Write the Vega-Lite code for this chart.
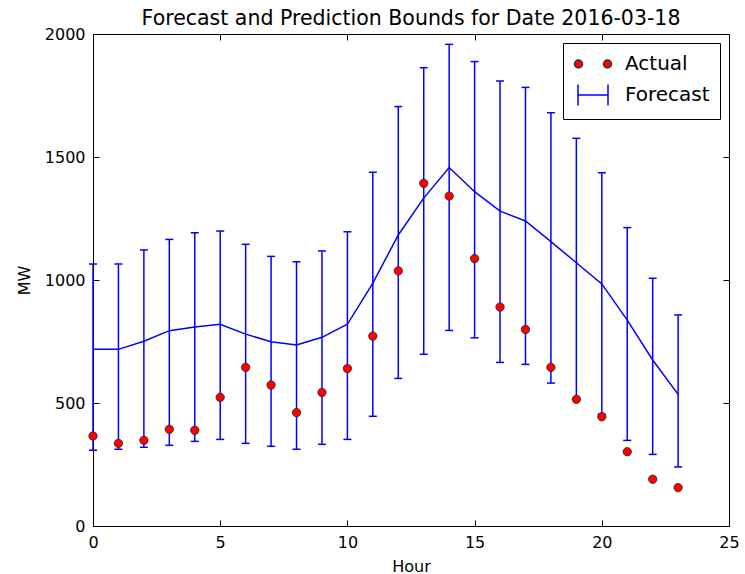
{
  "$schema": "https://vega.github.io/schema/vega-lite/v6.json",
  "width": 636,
  "height": 492,
  "autosize": {"type": "none"},
  "padding": {"left": 93, "top": 34, "right": 16, "bottom": 48},
  "background": "white",
  "title": {"text": "Forecast and Prediction Bounds for Date 2016-03-18", "fontSize": 20.5, "font": "DejaVu Sans", "fontWeight": "normal", "color": "black", "offset": -3},
  "config": {
    "view": {"stroke": "black", "strokeWidth": 1},
    "font": "DejaVu Sans",
    "axis": {"grid": false, "domain": false, "tickColor": "black", "tickWidth": 1, "tickSize": -6, "labelPadding": 14, "labelFlush": false, "labelFontSize": 16, "labelColor": "black", "labelFont": "DejaVu Sans", "titleFont": "DejaVu Sans", "titleFontSize": 16, "titleFontWeight": "normal", "titleColor": "black"},
    "legend": {"strokeColor": "black", "fillColor": "white", "padding": 10, "labelFontSize": 20, "labelFont": "DejaVu Sans", "labelColor": "black", "symbolSize": 400, "symbolOffset": 9, "labelOffset": 21, "rowPadding": 7, "offset": 9, "cornerRadius": 0, "symbolOpacity": 1, "symbolStrokeWidth": 1.5}
  },
  "data": {"values": [
    {"hour": 0, "actual": 366, "forecast": 718, "lower": 308, "upper": 1065, "series": "Actual"},
    {"hour": 1, "actual": 336, "forecast": 718, "lower": 312, "upper": 1065, "series": "Actual"},
    {"hour": 2, "actual": 348, "forecast": 751, "lower": 320, "upper": 1122, "series": "Actual"},
    {"hour": 3, "actual": 393, "forecast": 794, "lower": 328, "upper": 1165, "series": "Actual"},
    {"hour": 4, "actual": 389, "forecast": 809, "lower": 344, "upper": 1192, "series": "Actual"},
    {"hour": 5, "actual": 523, "forecast": 820, "lower": 352, "upper": 1199, "series": "Actual"},
    {"hour": 6, "actual": 645, "forecast": 780, "lower": 336, "upper": 1145, "series": "Actual"},
    {"hour": 7, "actual": 573, "forecast": 749, "lower": 324, "upper": 1096, "series": "Actual"},
    {"hour": 8, "actual": 461, "forecast": 736, "lower": 312, "upper": 1074, "series": "Actual"},
    {"hour": 9, "actual": 543, "forecast": 767, "lower": 332, "upper": 1118, "series": "Actual"},
    {"hour": 10, "actual": 640, "forecast": 820, "lower": 352, "upper": 1196, "series": "Actual"},
    {"hour": 11, "actual": 772, "forecast": 987, "lower": 446, "upper": 1438, "series": "Actual"},
    {"hour": 12, "actual": 1037, "forecast": 1183, "lower": 600, "upper": 1705, "series": "Actual"},
    {"hour": 13, "actual": 1393, "forecast": 1333, "lower": 698, "upper": 1863, "series": "Actual"},
    {"hour": 14, "actual": 1341, "forecast": 1457, "lower": 795, "upper": 1958, "series": "Actual"},
    {"hour": 15, "actual": 1087, "forecast": 1359, "lower": 765, "upper": 1888, "series": "Actual"},
    {"hour": 16, "actual": 890, "forecast": 1280, "lower": 665, "upper": 1809, "series": "Actual"},
    {"hour": 17, "actual": 799, "forecast": 1240, "lower": 657, "upper": 1783, "series": "Actual"},
    {"hour": 18, "actual": 645, "forecast": 1156, "lower": 581, "upper": 1680, "series": "Actual"},
    {"hour": 19, "actual": 515, "forecast": 1070, "lower": 515, "upper": 1576, "series": "Actual"},
    {"hour": 20, "actual": 444, "forecast": 984, "lower": 455, "upper": 1436, "series": "Actual"},
    {"hour": 21, "actual": 302, "forecast": 837, "lower": 348, "upper": 1213, "series": "Actual"},
    {"hour": 22, "actual": 190, "forecast": 675, "lower": 291, "upper": 1007, "series": "Actual"},
    {"hour": 23, "actual": 156, "forecast": 535, "lower": 240, "upper": 858, "series": "Actual"}
  ]},
  "resolve": {"axis": {"x": "independent", "y": "independent"}},
  "layer": [
    {
      "mark": {"type": "rule", "color": "blue", "strokeWidth": 1.5},
      "encoding": {
        "x": {"field": "hour", "type": "quantitative", "scale": {"domain": [0, 25], "nice": false}, "axis": {"orient": "bottom", "title": "Hour", "values": [0, 5, 10, 15, 20, 25], "titlePadding": 8}},
        "y": {"field": "lower", "type": "quantitative", "scale": {"domain": [0, 2000], "nice": false}, "axis": {"orient": "left", "title": "MW", "format": "d", "values": [0, 500, 1000, 1500, 2000], "titlePadding": 12}},
        "y2": {"field": "upper"}
      }
    },
    {
      "mark": {"type": "tick", "orient": "horizontal", "color": "blue", "size": 8, "thickness": 1.5, "opacity": 1},
      "encoding": {
        "x": {"field": "hour", "type": "quantitative", "axis": null},
        "y": {"field": "upper", "type": "quantitative", "axis": null}
      }
    },
    {
      "mark": {"type": "tick", "orient": "horizontal", "color": "blue", "size": 8, "thickness": 1.5, "opacity": 1},
      "encoding": {
        "x": {"field": "hour", "type": "quantitative", "axis": null},
        "y": {"field": "lower", "type": "quantitative", "axis": null}
      }
    },
    {
      "mark": {"type": "line", "color": "blue", "strokeWidth": 1.5},
      "encoding": {
        "x": {"field": "hour", "type": "quantitative", "axis": {"orient": "top", "labels": false, "title": null, "values": [0, 5, 10, 15, 20, 25]}},
        "y": {"field": "forecast", "type": "quantitative", "axis": {"orient": "right", "labels": false, "title": null, "values": [0, 500, 1000, 1500, 2000]}}
      }
    },
    {
      "mark": {"type": "point", "filled": true, "shape": "circle", "size": 70, "fill": "red", "stroke": "#222222", "strokeWidth": 0.8, "opacity": 1},
      "encoding": {
        "x": {"field": "hour", "type": "quantitative", "axis": null},
        "y": {"field": "actual", "type": "quantitative", "axis": null}
      }
    },
    {
      "mark": {"type": "point", "opacity": 0, "size": 400},
      "encoding": {
        "x": {"field": "hour", "type": "quantitative", "axis": null},
        "y": {"field": "actual", "type": "quantitative", "axis": null},
        "shape": {"field": "series", "type": "nominal", "scale": {"domain": ["Actual", "Forecast"], "range": ["M-1.85,0A0.4,0.4 0 1,0 -1.05,0A0.4,0.4 0 1,0 -1.85,0Z M1.05,0A0.4,0.4 0 1,0 1.85,0A0.4,0.4 0 1,0 1.05,0Z", "M-1.5,-1.05L-1.5,1.05M-1.5,0L1.5,0M1.5,-1.05L1.5,1.05"]}, "legend": {"title": null, "orient": "top-right"}},
        "fill": {"field": "series", "type": "nominal", "scale": {"domain": ["Actual", "Forecast"], "range": ["red", "transparent"]}, "legend": {"title": null, "orient": "top-right"}},
        "stroke": {"field": "series", "type": "nominal", "scale": {"domain": ["Actual", "Forecast"], "range": ["#333333", "blue"]}, "legend": {"title": null, "orient": "top-right"}}
      }
    }
  ]
}
